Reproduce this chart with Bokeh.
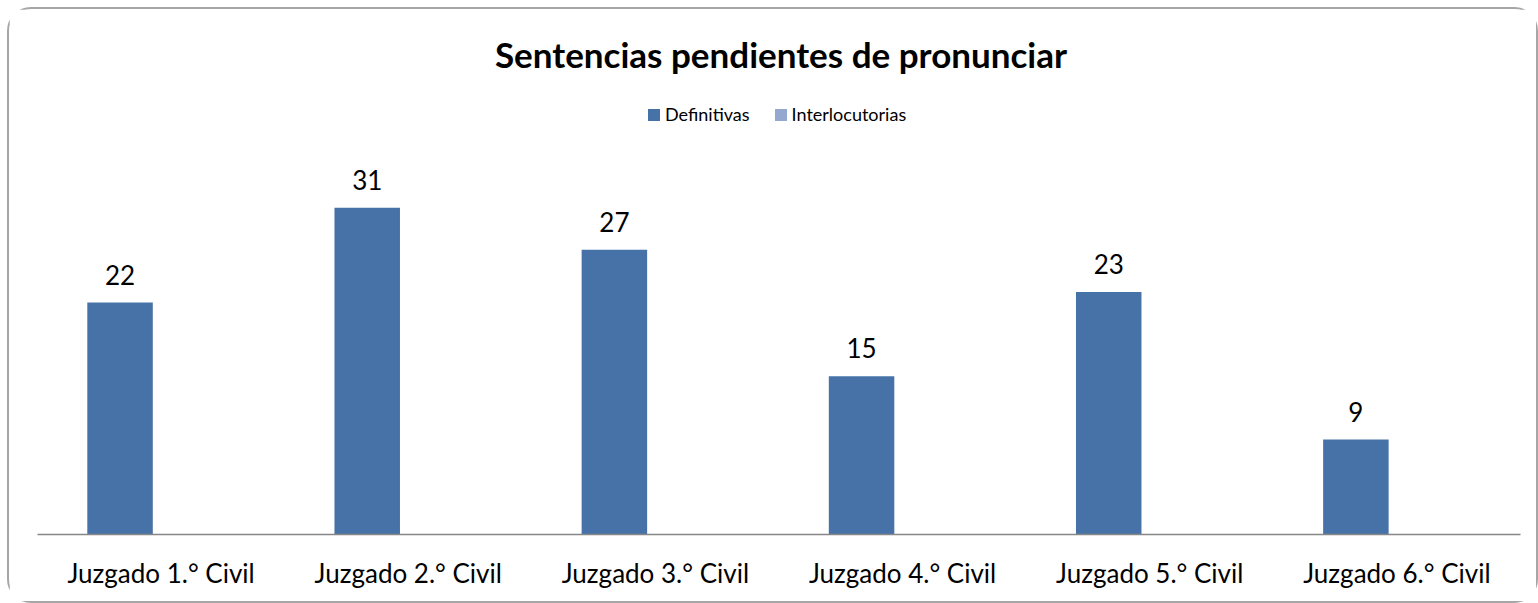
from bokeh.plotting import figure
from bokeh.models import ColumnDataSource, LabelSet, Label, Legend, LegendItem, Range1d, FactorRange
from bokeh.transform import dodge
from bokeh.core.properties import value
from bokeh.embed import file_html
from bokeh.resources import INLINE

categories = ["Juzgado 1.° Civil", "Juzgado 2.° Civil", "Juzgado 3.° Civil",
              "Juzgado 4.° Civil", "Juzgado 5.° Civil", "Juzgado 6.° Civil"]
definitivas = [22, 31, 27, 15, 23, 9]
interlocutorias = [0, 0, 0, 0, 0, 0]
series_names = ["Definitivas", "Interlocutorias"]
title_text = "Sentencias pendientes de pronunciar"

FONT = "Lato"
C_DEF = "#4672A8"
C_INT = "#93A9CF"

src = ColumnDataSource(dict(cat=categories, d=definitivas, i=interlocutorias,
                            dl=[str(v) for v in definitivas]))

W, H = 1531, 596
ML, MR, MB = 28, 20, 71
frame_h = H - MB
frame_w = W - ML - MR
# value axis: 0..35 spans 369 px in the reference; frame extends up to hold title/legend
y_top = 35 * frame_h / 369.0

p = figure(width=W, height=H, x_range=FactorRange(*categories, range_padding=0),
           y_range=Range1d(0, y_top), output_backend="svg", toolbar_location=None,
           min_border_left=ML, min_border_right=MR, min_border_top=0, min_border_bottom=MB)
p.styles = {"border": "2px solid #A6A6A6", "border-radius": "24px",
            "box-sizing": "border-box", "margin-left": "7px", "margin-top": "7px"}

r1 = p.vbar(x=dodge("cat", -0.166, range=p.x_range), top="d", width=0.265, source=src,
            fill_color=C_DEF, line_color=None)
r2 = p.vbar(x=dodge("cat", 0.098, range=p.x_range), top="i", width=0.265, source=src,
            fill_color=C_INT, line_color=None)

labels = LabelSet(x=dodge("cat", -0.166, range=p.x_range), y="d", text="dl", source=src,
                  text_align="center", text_baseline="bottom", y_offset=18,
                  text_font=value(FONT), text_font_size="26px", text_color="#000000")
p.add_layout(labels)

p.add_layout(Label(x=frame_w / 2 + 2, y=frame_h - 44, x_units="screen", y_units="screen",
                   text=title_text, text_align="center", text_baseline="middle",
                   text_font=FONT, text_font_style="bold", text_font_size="35px",
                   text_color="#000000"))

legend = Legend(items=[LegendItem(label=series_names[0], renderers=[r1]),
                       LegendItem(label=series_names[1], renderers=[r2])],
                orientation="horizontal", location=(609, frame_h - 116),
                border_line_color=None, background_fill_alpha=0,
                label_text_font=FONT, label_text_font_size="18px", label_text_color="#000000",
                glyph_width=15, glyph_height=15, label_height=15, label_standoff=4,
                spacing=23, padding=0, margin=0)
p.add_layout(legend)

p.yaxis.visible = False
p.xgrid.grid_line_color = None
p.ygrid.grid_line_color = None
p.outline_line_color = None
p.xaxis.axis_line_color = "#868686"
p.xaxis.axis_line_width = 1.5
p.xaxis.major_tick_line_color = None
p.xaxis.minor_tick_line_color = None
p.xaxis.major_label_text_font = FONT
p.xaxis.major_label_text_font_size = "26px"
p.xaxis.major_label_text_color = "#000000"
p.xaxis.major_label_standoff = 16

open("out.html", "w").write(file_html(p, INLINE))
